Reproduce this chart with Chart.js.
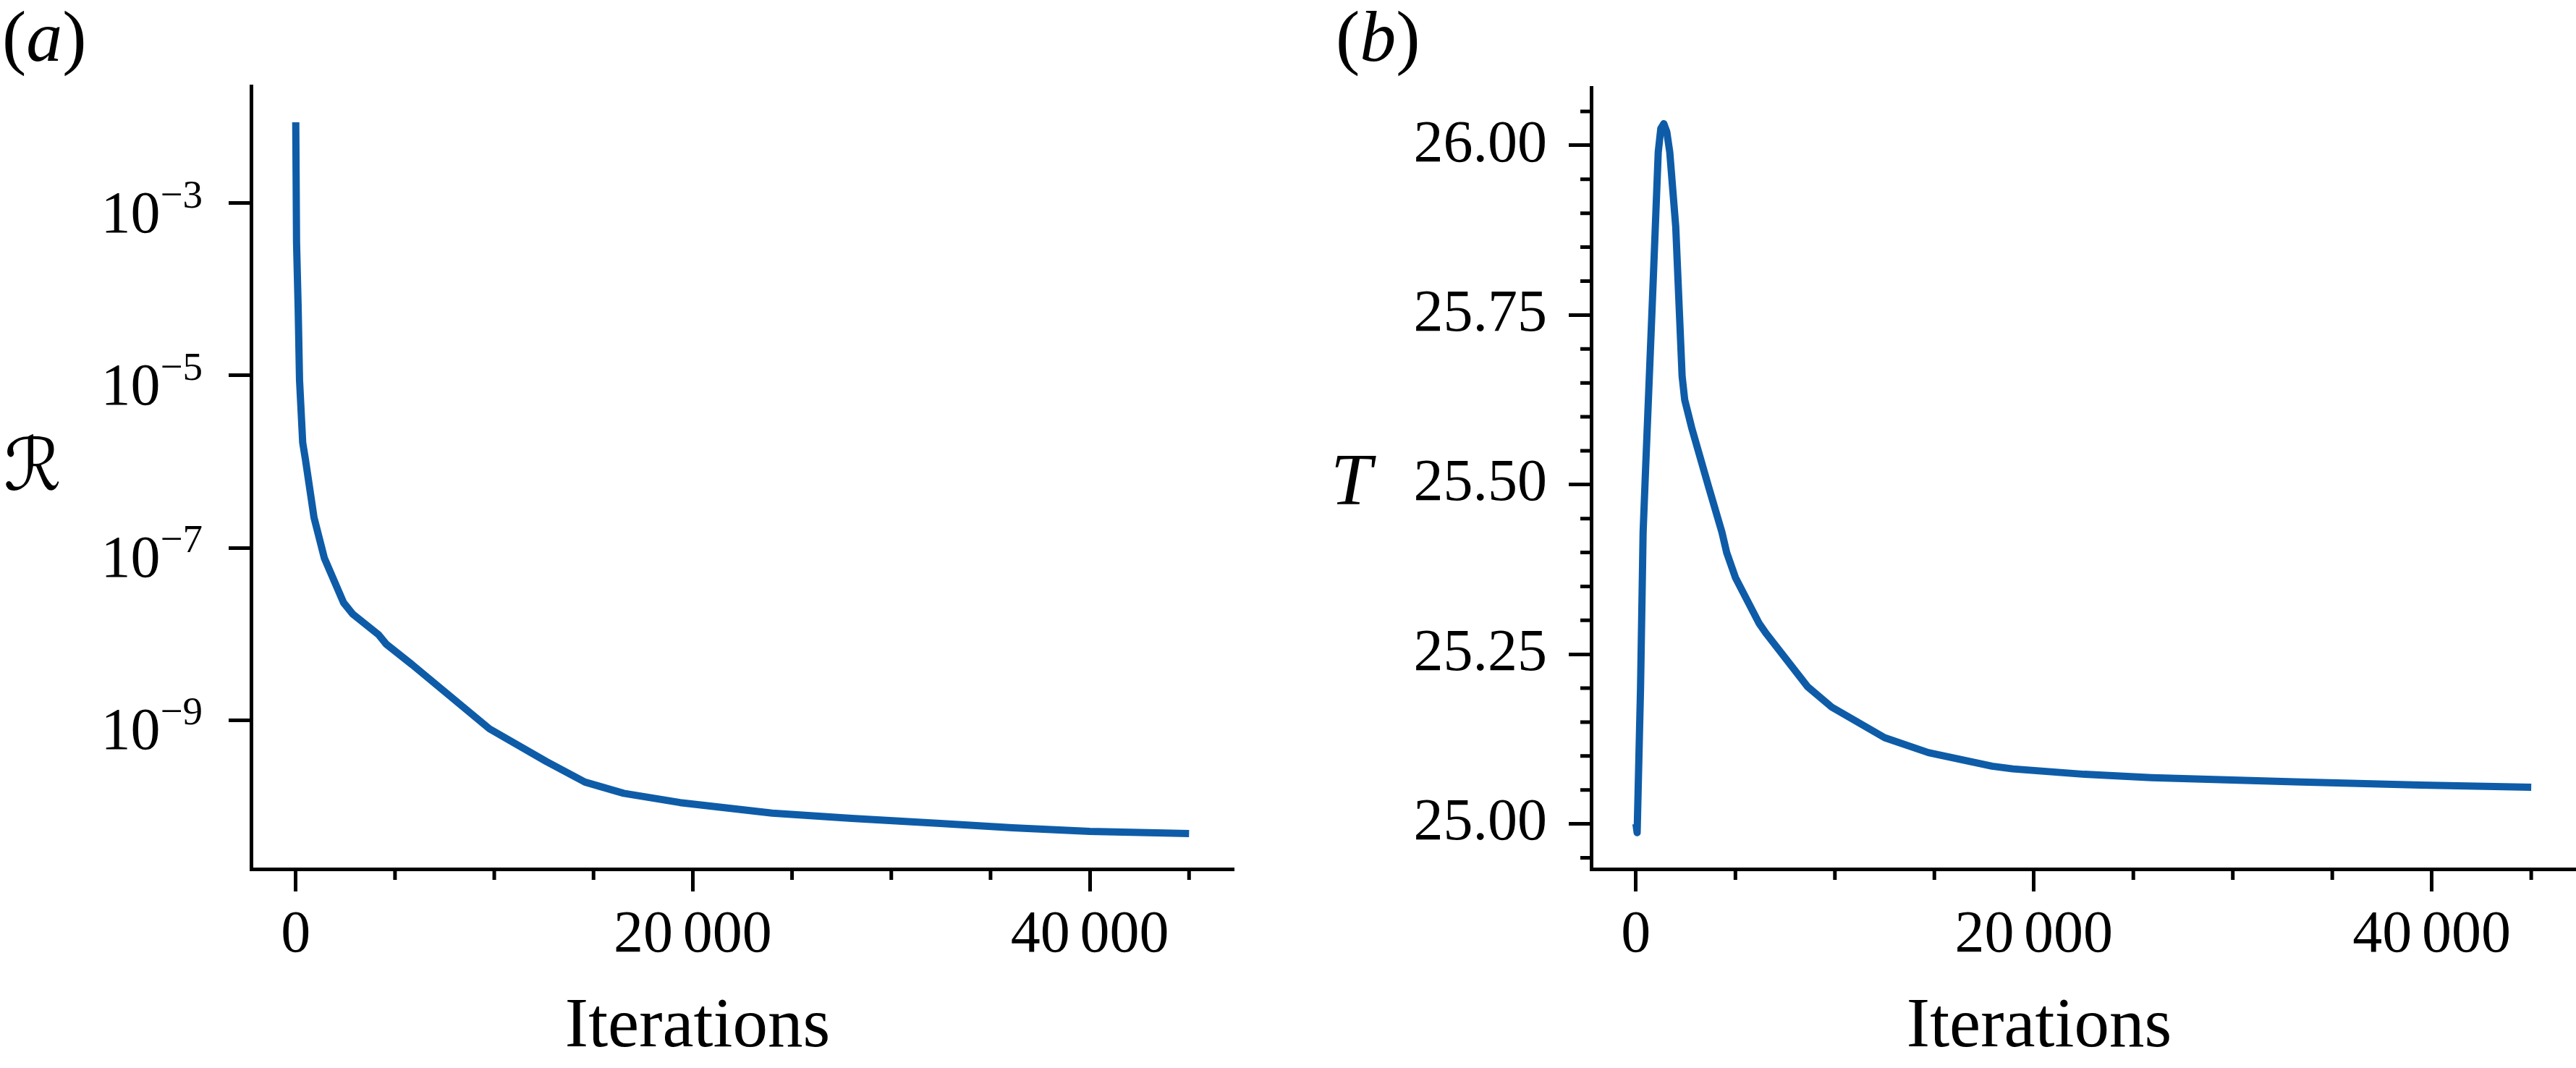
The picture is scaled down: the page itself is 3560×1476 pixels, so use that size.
<!DOCTYPE html>
<html>
<head>
<meta charset="utf-8">
<script src="https://cdn.jsdelivr.net/npm/chart.js@4.4.1/dist/chart.umd.min.js"></script>
<style>
  body { margin: 0; background: #fff; width: 3560px; height: 1476px; overflow: hidden; }
  canvas { position: absolute; top: 0; }
  #chartA { left: 0; }
  #chartB { left: 1780px; }
</style>
</head>
<body>
<canvas id="chartA" width="1780" height="1476"></canvas>
<canvas id="chartB" width="1780" height="1476"></canvas>
<script>
// (a) residual vs iterations
const iterRes = [0, 40, 120, 190, 350, 490, 920, 1440, 2410, 2870, 4170, 4560, 5860, 9760, 12620, 14570, 16520, 19360, 24000, 28000, 32460, 36100, 40000, 45000]
const residual = [8.7e-3, 3.5e-4, 6.3e-5, 8.9e-6, 1.66e-6, 1.05e-6, 2.24e-7, 7.6e-8, 2.3e-8, 1.7e-8, 9.8e-9, 7.6e-9, 4.4e-9, 7.9e-10, 3.3e-10, 1.9e-10, 1.41e-10, 1.10e-10, 8.3e-11, 7.2e-11, 6.3e-11, 5.6e-11, 5.1e-11, 4.8e-11]
const resTickExp = [-9, -7, -5, -3]

// (b) T vs iterations
const iterTemp = [0, 60, 230, 360, 480, 880, 1120, 1250, 1400, 1550, 1700, 2000, 2320, 2450, 2800, 3650, 4320, 4560, 5000, 6200, 6560, 8630, 9840, 12500, 14700, 17900, 18950, 22540, 25920, 33100, 39450, 45000]
const temperature = [25.000, 24.987, 25.20, 25.43, 25.52, 25.81, 25.99, 26.025, 26.032, 26.02, 25.99, 25.88, 25.66, 25.625, 25.584, 25.497, 25.43, 25.40, 25.363, 25.295, 25.28, 25.202, 25.172, 25.127, 25.105, 25.085, 25.081, 25.073, 25.068, 25.062, 25.057, 25.054]
const tempTicks = [25.00, 25.25, 25.50, 25.75, 26.00]
const tempMinorTicks = [24.95, 25.05, 25.10, 25.15, 25.20, 25.30, 25.35, 25.40, 25.45, 25.55, 25.60, 25.65, 25.70, 25.80, 25.85, 25.90, 25.95, 26.05]

const iterTicks = [0, 20000, 40000]
const iterMinorTicks = [5000, 10000, 15000, 25000, 30000, 35000, 45000]

const lineColor = '#0e5ca8'
const serif = "'Liberation Serif', 'Times New Roman', serif"

function toPoints(xs, ys) {
  return xs.map((x, i) => ({ x: x, y: ys[i] }))
}

// 20000 -> "20 000" with a narrow space like the original
function fmtIter(v) {
  return String(v).replace(/\B(?=(\d{3})+(?!\d))/g, '\u2006')
}

const tickGrid = { drawOnChartArea: false, drawTicks: true, tickLength: 31, tickWidth: 5, tickColor: '#000' }
const spine = { display: true, color: '#000', width: 5 }

// labels, minor ticks and the 10^n tick text
const figText = {
  id: 'figText',
  afterDraw(chart, args, o) {
    const ctx = chart.ctx
    const xs = chart.scales.x
    const ys = chart.scales.y
    ctx.save()
    ctx.strokeStyle = '#000'
    ctx.fillStyle = '#000'
    ctx.lineWidth = 5
    ctx.lineCap = 'butt'

    // minor ticks
    ctx.beginPath()
    iterMinorTicks.forEach(v => {
      const px = xs.getPixelForValue(v)
      ctx.moveTo(px, xs.top)
      ctx.lineTo(px, xs.top + 15)
    })
    ;(o.yMinor || []).forEach(v => {
      const py = ys.getPixelForValue(v)
      ctx.moveTo(ys.right, py)
      ctx.lineTo(ys.right - 15, py)
    })
    ctx.stroke()

    // 10^n labels on the log axis
    if (o.logLabels) {
      resTickExp.forEach(e => {
        const py = ys.getPixelForValue(Math.pow(10, e))
        const sup = '\u2212' + Math.abs(e)
        ctx.font = '82px ' + serif
        const w1 = ctx.measureText('10').width
        ctx.font = '55px ' + serif
        const w2 = ctx.measureText(sup).width
        const x0 = o.logRight - w1 - w2
        ctx.textAlign = 'left'
        ctx.textBaseline = 'alphabetic'
        ctx.font = '82px ' + serif
        ctx.fillText('10', x0, py + 40)
        ctx.font = '55px ' + serif
        ctx.fillText(sup, x0 + w1, py + 6)
      })
    }

    // panel letter
    ctx.textAlign = 'left'
    ctx.textBaseline = 'alphabetic'
    let px = o.panelX
    ctx.font = '100px ' + serif
    ctx.fillText('(', px, 84)
    px += ctx.measureText('(').width
    ctx.font = 'italic 100px ' + serif
    ctx.fillText(o.panel, px, 84)
    px += ctx.measureText(o.panel).width
    ctx.font = '100px ' + serif
    ctx.fillText(')', px, 84)

    // y label
    ctx.font = o.yFont
    ctx.fillText(o.yLabel, o.yLabelX, o.yLabelY)

    // x label
    ctx.font = '97px ' + serif
    ctx.textAlign = 'center'
    ctx.fillText('Iterations', o.xLabelX, 1446)
    ctx.restore()
  }
}

new Chart(document.getElementById('chartA'), {
  type: 'line',
  data: {
    datasets: [{
      data: toPoints(iterRes, residual),
      borderColor: lineColor,
      borderWidth: 10,
      pointRadius: 0,
      tension: 0,
      borderJoinStyle: 'round',
      fill: false
    }]
  },
  options: {
    responsive: false,
    animation: false,
    devicePixelRatio: 1,
    events: [],
    layout: { autoPadding: false, padding: { top: 119, right: 75, left: 0, bottom: 0 } },
    scales: {
      x: {
        type: 'linear', min: -2250, max: 47250,
        afterBuildTicks: s => { s.ticks = iterTicks.map(v => ({ value: v })) },
        afterFit: s => { s.height = 275 },
        grid: tickGrid,
        border: spine,
        ticks: { color: '#000', font: { family: serif, size: 82 }, padding: 12, maxRotation: 0, autoSkip: false, callback: v => fmtIter(v) }
      },
      y: {
        type: 'logarithmic', min: Math.pow(10, -10.73), max: Math.pow(10, -1.64),
        afterBuildTicks: s => { s.ticks = resTickExp.map(e => ({ value: Math.pow(10, e) })) },
        afterFit: s => { s.width = 347 },
        grid: tickGrid,
        border: spine,
        ticks: { display: false }
      }
    },
    plugins: {
      legend: { display: false },
      tooltip: { enabled: false },
      figText: {
        panel: 'a', panelX: 3,
        yLabel: '\u211B', yFont: "100px 'DejaVu Serif', 'DejaVu Sans', serif", yLabelX: 5, yLabelY: 677,
        xLabelX: 964,
        logLabels: true, logRight: 280
      }
    }
  },
  plugins: [figText]
})

new Chart(document.getElementById('chartB'), {
  type: 'line',
  data: {
    datasets: [{
      data: toPoints(iterTemp, temperature),
      borderColor: lineColor,
      borderWidth: 10,
      pointRadius: 0,
      tension: 0,
      borderJoinStyle: 'round',
      fill: false
    }]
  },
  options: {
    responsive: false,
    animation: false,
    devicePixelRatio: 1,
    events: [],
    layout: { autoPadding: false, padding: { top: 121, right: 0, left: 0, bottom: 0 } },
    scales: {
      x: {
        type: 'linear', min: -2250, max: 47250,
        afterBuildTicks: s => { s.ticks = iterTicks.map(v => ({ value: v })) },
        afterFit: s => { s.height = 275 },
        grid: tickGrid,
        border: spine,
        ticks: { color: '#000', font: { family: serif, size: 82 }, padding: 12, maxRotation: 0, autoSkip: false, callback: v => fmtIter(v) }
      },
      y: {
        type: 'linear', min: 24.9334, max: 26.0853,
        afterBuildTicks: s => { s.ticks = tempTicks.map(v => ({ value: v })) },
        afterFit: s => { s.width = 419 },
        grid: tickGrid,
        border: spine,
        ticks: { color: '#000', font: { family: serif, size: 82 }, padding: 30, autoSkip: false, callback: v => v.toFixed(2) }
      }
    },
    plugins: {
      legend: { display: false },
      tooltip: { enabled: false },
      figText: {
        panel: 'b', panelX: 66,
        yLabel: 'T', yFont: 'italic 102px ' + serif, yLabelX: 59, yLabelY: 697,
        xLabelX: 1038,
        yMinor: tempMinorTicks
      }
    }
  },
  plugins: [figText]
})
</script>
</body>
</html>
